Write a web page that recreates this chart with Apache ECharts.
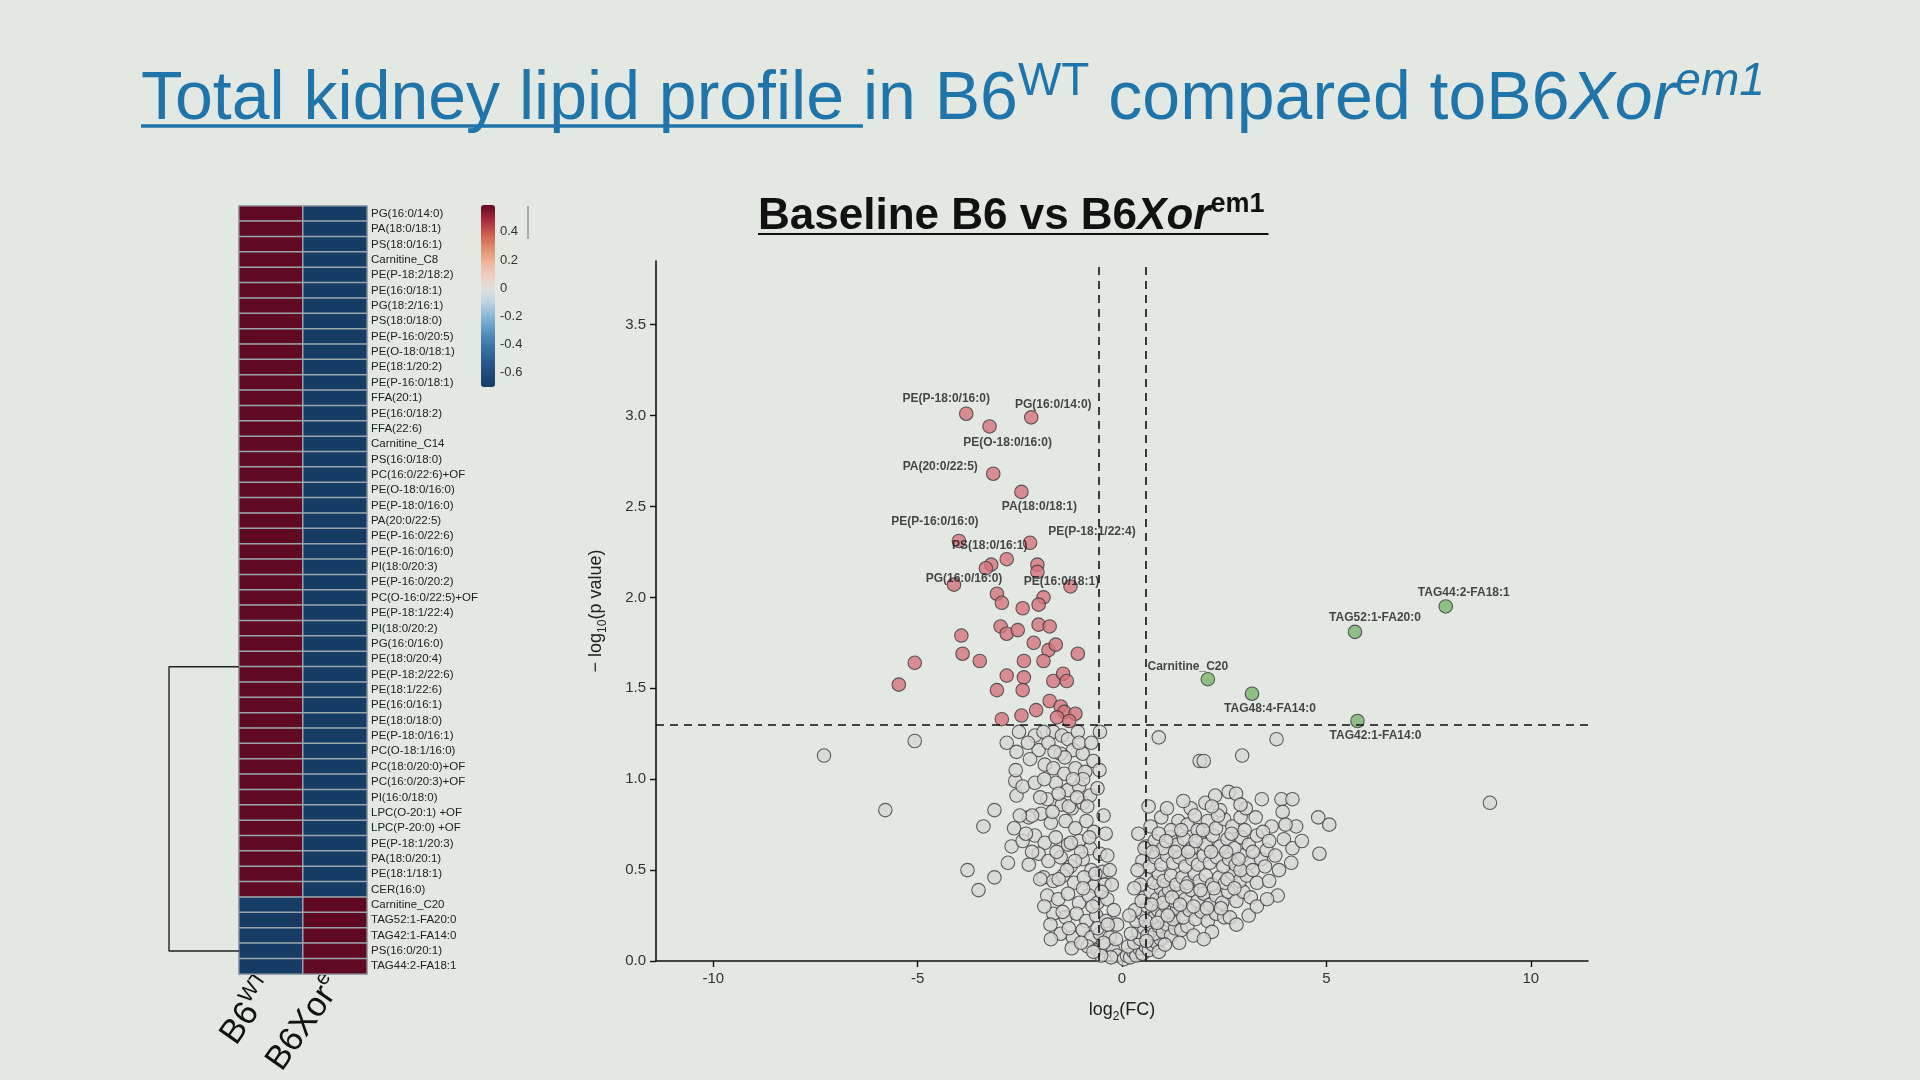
<!DOCTYPE html>
<html><head><meta charset="utf-8">
<script src="https://cdn.jsdelivr.net/npm/echarts@6/dist/echarts.min.js"></script>
<style>html,body{margin:0;padding:0;background:#e3e8e3;}#c{width:1920px;height:1080px;}</style>
</head><body><div id="c"></div>
<script>
// ---------------- DATA ----------------
const lipidNames = ['PG(16:0/14:0)','PA(18:0/18:1)','PS(18:0/16:1)','Carnitine_C8','PE(P-18:2/18:2)','PE(16:0/18:1)','PG(18:2/16:1)','PS(18:0/18:0)','PE(P-16:0/20:5)','PE(O-18:0/18:1)','PE(18:1/20:2)','PE(P-16:0/18:1)','FFA(20:1)','PE(16:0/18:2)','FFA(22:6)','Carnitine_C14','PS(16:0/18:0)','PC(16:0/22:6)+OF','PE(O-18:0/16:0)','PE(P-18:0/16:0)','PA(20:0/22:5)','PE(P-16:0/22:6)','PE(P-16:0/16:0)','PI(18:0/20:3)','PE(P-16:0/20:2)','PC(O-16:0/22:5)+OF','PE(P-18:1/22:4)','PI(18:0/20:2)','PG(16:0/16:0)','PE(18:0/20:4)','PE(P-18:2/22:6)','PE(18:1/22:6)','PE(16:0/16:1)','PE(18:0/18:0)','PE(P-18:0/16:1)','PC(O-18:1/16:0)','PC(18:0/20:0)+OF','PC(16:0/20:3)+OF','PI(16:0/18:0)','LPC(O-20:1) +OF','LPC(P-20:0) +OF','PE(P-18:1/20:3)','PA(18:0/20:1)','PE(18:1/18:1)','CER(16:0)','Carnitine_C20','TAG52:1-FA20:0','TAG42:1-FA14:0','PS(16:0/20:1)','TAG44:2-FA18:1'];
const wtValues = [0.71,0.71,0.71,0.71,0.71,0.71,0.71,0.71,0.71,0.71,0.71,0.71,0.71,0.71,0.71,0.71,0.71,0.71,0.71,0.71,0.71,0.71,0.71,0.71,0.71,0.71,0.71,0.71,0.71,0.71,0.71,0.71,0.71,0.71,0.71,0.71,0.71,0.71,0.71,0.71,0.71,0.71,0.71,0.71,0.71,-0.71,-0.71,-0.71,-0.71,-0.71];
const xorValues = [-0.71,-0.71,-0.71,-0.71,-0.71,-0.71,-0.71,-0.71,-0.71,-0.71,-0.71,-0.71,-0.71,-0.71,-0.71,-0.71,-0.71,-0.71,-0.71,-0.71,-0.71,-0.71,-0.71,-0.71,-0.71,-0.71,-0.71,-0.71,-0.71,-0.71,-0.71,-0.71,-0.71,-0.71,-0.71,-0.71,-0.71,-0.71,-0.71,-0.71,-0.71,-0.71,-0.71,-0.71,-0.71,0.71,0.71,0.71,0.71,0.71];
const heatColumns = ['B6WT','B6Xore'];
const colorbarTicks = [-0.6,-0.4,-0.2,0,0.2,0.4];
const colorbarRange = [-0.70, 0.59];
const dendroBranchRows = [29.5, 48];

const xTicks = [-10,-5,0,5,10];
const yTicks = [0,0.5,1,1.5,2,2.5,3,3.5];
const fcCut = 0.585;
const pCut = 1.301;

const redNames = ['PE(P-18:0/16:0)','PG(16:0/14:0)','PE(O-18:0/16:0)','PA(20:0/22:5)','PA(18:0/18:1)','PE(P-16:0/16:0)','PE(P-18:1/22:4)','PS(18:0/16:1)','PG(16:0/16:0)','PE(16:0/18:1)'];
const redX = [-3.81,-2.22,-3.24,-3.15,-2.46,-3.99,-2.25,-2.82,-4.11,-1.26];
const redY = [3.01,2.99,2.94,2.68,2.58,2.31,2.30,2.21,2.07,2.06];
const redOther = [[-3.20,2.18],[-3.33,2.16],[-2.07,2.18],[-2.07,2.14],[-3.06,2.02],[-2.94,1.97],[-1.92,2.00],[-2.04,1.96],[-2.43,1.94],
 [-5.07,1.64],[-5.46,1.52],[-3.93,1.79],[-3.90,1.69],[-3.48,1.65],[-2.97,1.84],[-2.82,1.80],[-2.55,1.82],[-2.04,1.85],[-1.77,1.84],[-2.16,1.75],[-1.80,1.71],[-1.62,1.74],[-1.08,1.69],[-2.40,1.65],[-1.92,1.65],[-2.82,1.57],[-2.40,1.56],[-1.68,1.54],[-1.44,1.58],[-1.35,1.54],[-3.06,1.49],[-2.43,1.49],[-1.77,1.43],[-1.50,1.40],[-1.41,1.37],[-1.14,1.36],[-2.10,1.38],[-2.46,1.35],[-2.94,1.33],[-1.59,1.34],[-1.29,1.32]];

const greenNames = ['TAG44:2-FA18:1','TAG52:1-FA20:0','Carnitine_C20','TAG48:4-FA14:0','TAG42:1-FA14:0'];
const greenX = [7.92,5.70,2.10,3.18,5.76];
const greenY = [1.95,1.81,1.55,1.47,1.32];

const grayPoints = [
 [-7.29,1.13],[-5.79,0.83],[-5.07,1.21],
 [-3.78,0.50],[-3.51,0.39],[-3.12,0.46],[-3.39,0.74],[-3.12,0.83],[-2.64,0.73],[-2.70,0.63],[-2.43,0.66],[-2.79,0.54],[-2.28,0.53],[-2.58,0.91],[-2.61,0.99],[-2.43,0.96],[-2.82,1.20],[-2.52,1.26],[-2.58,1.15],[-2.13,1.24],[-2.04,1.16],[-2.25,1.11],[-1.89,1.08],[-1.68,1.26],[-1.92,1.26],[-1.80,1.20],[-1.47,1.24],[-1.32,1.22],[-1.08,1.26],[-1.20,1.16],[-1.50,1.14],[-1.68,1.06],[-1.41,1.03],[-1.14,1.06],[-0.96,1.14],[-0.90,1.04],[-1.62,0.98],[-1.32,0.94],[-1.05,0.96],[-1.83,0.89],[-1.47,0.86],[-1.23,0.84],[-0.96,0.87],[-0.78,0.91],[-1.98,0.81],[-1.74,0.76],[-1.38,0.77],[-1.14,0.73],[-0.87,0.77],[-0.69,0.71],[-2.13,0.69],[-1.89,0.65],[-1.62,0.68],[-1.32,0.64],[-1.05,0.66],[-0.78,0.62],[-0.54,0.59],[-0.36,0.58],[-2.04,0.59],[-1.80,0.55],[-1.50,0.57],[-1.26,0.52],[-0.96,0.56],[-0.75,0.50],[-0.48,0.49],[-1.92,0.46],[-1.68,0.44],[-1.44,0.47],[-1.17,0.43],[-0.93,0.46],[-0.69,0.41],[-0.42,0.42],[-1.83,0.36],[-1.56,0.34],[-1.32,0.37],[-1.05,0.32],[-0.81,0.36],[-0.60,0.32],[-0.36,0.34],[-1.68,0.26],[-1.38,0.24],[-1.11,0.26],[-0.87,0.22],[-0.63,0.25],[-0.39,0.22],[-1.50,0.15],[-1.20,0.13],[-0.96,0.17],[-0.75,0.13],[-0.54,0.15],[-0.30,0.13],[-1.23,0.07],[-0.84,0.08],[-0.60,0.06],[-0.39,0.09],[-0.21,0.06],[-0.12,0.03],[-0.27,0.02],[-0.51,0.03],[-0.54,1.26],[-2.13,0.98],[-2.28,0.79],[-1.74,0.12],
 [-0.45,0.80],[-0.60,0.95],[-0.70,1.10],[-0.55,1.05],[-0.40,0.70],[-0.30,0.50],[-0.25,0.42],[-0.50,0.38],[-0.65,0.48],[-0.72,0.30],[-0.95,0.40],[-1.00,0.60],[-1.15,0.55],[-1.25,0.65],[-1.35,0.50],[-1.55,0.45],[-1.60,0.60],[-1.70,0.82],[-1.55,0.92],[-1.30,0.85],[-1.10,0.90],[-0.95,1.00],[-1.20,1.00],[-1.40,1.12],[-1.65,1.15],[-1.90,1.00],[-2.00,0.90],[-2.20,0.80],[-2.35,0.70],[-2.50,0.80],[-2.20,0.60],[-2.00,0.45],[-1.90,0.30],[-1.75,0.20],[-1.45,0.27],[-1.30,0.18],[-1.00,0.10],[-0.70,0.05],[-0.60,0.18],[-0.45,0.10],[-0.15,0.12],[-0.12,0.20],[-0.20,0.28],[-0.35,0.20],[-0.80,0.68],[-0.85,0.85],[-1.05,1.20],[-0.75,1.20],[-2.60,1.05],[-2.30,1.20],
 [0.05,0.01],[0.12,0.03],[0.20,0.02],[0.28,0.05],[0.35,0.03],[0.42,0.07],[0.50,0.04],[0.58,0.08],[0.66,0.06],[0.75,0.09],[0.15,0.08],[0.30,0.10],[0.45,0.12],[0.85,0.10],[0.95,0.12],
 [0.40,0.16],[0.55,0.18],[0.62,0.14],[0.70,0.20],[0.80,0.15],[0.90,0.19],[1.00,0.16],[1.10,0.20],[1.20,0.14],[1.30,0.18],[1.45,0.17],[1.60,0.19],[0.35,0.22],[0.75,0.24],[1.25,0.23],
 [0.50,0.26],[0.62,0.30],[0.88,0.28],[0.98,0.25],[1.08,0.30],[1.18,0.27],[1.35,0.29],[1.50,0.24],[1.65,0.28],[1.80,0.23],[1.95,0.27],[2.10,0.22],[2.30,0.26],[2.50,0.24],[2.64,0.24],
 [0.55,0.35],[0.70,0.38],[0.85,0.34],[0.95,0.40],[1.05,0.36],[1.15,0.39],[1.28,0.33],[1.40,0.37],[1.55,0.34],[1.70,0.39],[1.85,0.33],[2.00,0.37],[2.15,0.31],[2.30,0.36],[2.45,0.32],[2.60,0.38],[2.80,0.33],[2.97,0.38],[3.15,0.35],[3.81,0.36],[1.00,0.32],
 [0.60,0.45],[0.78,0.43],[0.90,0.48],[1.02,0.44],[1.20,0.47],[1.33,0.42],[1.48,0.46],[1.62,0.43],[1.78,0.48],[1.90,0.44],[2.05,0.47],[2.20,0.42],[2.38,0.46],[2.52,0.43],[2.70,0.48],[2.88,0.44],[3.05,0.47],[3.30,0.43],[3.60,0.44],[3.84,0.50],[0.45,0.42],
 [0.50,0.55],[0.68,0.52],[0.82,0.57],[0.96,0.53],[1.10,0.58],[1.25,0.54],[1.40,0.57],[1.55,0.52],[1.72,0.56],[1.86,0.53],[2.00,0.58],[2.15,0.54],[2.32,0.57],[2.48,0.52],[2.62,0.56],[2.78,0.53],[2.95,0.58],[3.12,0.54],[3.40,0.56],[4.14,0.54],[4.83,0.59],
 [0.60,0.63],[0.80,0.66],[1.00,0.62],[1.18,0.68],[1.35,0.64],[1.52,0.67],[1.70,0.62],[1.88,0.68],[2.05,0.64],[2.22,0.69],[2.40,0.63],[2.58,0.67],[2.75,0.62],[2.92,0.68],[3.10,0.64],[3.54,0.61],[3.96,0.67],[4.17,0.62],[3.30,0.69],
 [0.70,0.74],[0.96,0.79],[1.38,0.77],[1.20,0.72],[1.60,0.75],[1.85,0.72],[2.10,0.77],[2.30,0.73],[2.50,0.78],[2.70,0.74],[2.90,0.79],[3.27,0.79],[3.66,0.74],[4.26,0.74],[4.80,0.79],[5.07,0.75],[3.45,0.71],
 [1.68,0.84],[2.04,0.87],[2.28,0.91],[2.61,0.93],[2.79,0.92],[3.03,0.84],[3.42,0.89],[3.90,0.89],[3.93,0.82],[4.17,0.89],[2.40,0.83],[2.90,0.86],
 [9.00,0.87],[3.78,1.22],[0.90,1.23],[1.90,1.10],[2.00,1.10],[2.94,1.13],
 [0.32,0.28],[0.48,0.33],[0.58,0.22],[0.72,0.31],[0.86,0.21],[1.12,0.25],[1.22,0.35],[1.42,0.31],[1.58,0.41],[1.75,0.30],[1.92,0.39],[2.08,0.29],[2.25,0.40],[2.42,0.29],[2.58,0.45],[2.75,0.40],[2.90,0.50],[3.20,0.50],[3.50,0.52],[0.38,0.50],[0.55,0.62],[0.75,0.60],[0.90,0.70],[1.08,0.66],[1.30,0.60],[1.45,0.72],[1.62,0.60],[1.80,0.66],[1.98,0.72],[2.18,0.60],[2.35,0.80],[2.55,0.60],[2.68,0.70],[2.85,0.56],[3.00,0.72],[3.20,0.60],[3.60,0.66],[3.75,0.58],[4.00,0.75],[4.40,0.66],[1.10,0.84],[1.50,0.88],[1.78,0.80],[2.20,0.85],[0.65,0.85],[0.40,0.70],[0.30,0.40],[0.22,0.15],[0.18,0.25],[0.60,0.11],[0.90,0.05],[1.05,0.09],[1.40,0.10],[1.75,0.14],[2.20,0.16],[2.00,0.12],[2.80,0.20],[3.10,0.25],[3.30,0.30],[3.55,0.34]
];

// ---------------- STYLE / LAYOUT ----------------
const FONT = '"Liberation Sans", Arial, sans-serif';
const TITLE_COLOR = '#1f74aa';
const labelOffsets = {
 'PE(P-18:0/16:0)':[-20,-15],'PG(16:0/14:0)':[22,-13],'PE(O-18:0/16:0)':[18,16],'PA(20:0/22:5)':[-53,-7],
 'PA(18:0/18:1)':[18,15],'PE(P-16:0/16:0)':[-24,-19],'PE(P-18:1/22:4)':[62,-11],'PS(18:0/16:1)':[-17,-13],
 'PG(16:0/16:0)':[10,-6],'PE(16:0/18:1)':[-9,-5],
 'TAG44:2-FA18:1':[18,-14],'TAG52:1-FA20:0':[20,-14],'Carnitine_C20':[-20,-12],'TAG48:4-FA14:0':[18,15],'TAG42:1-FA14:0':[18,15]
};

const ctx = document.createElement('canvas').getContext('2d');
function tw(font, s){ ctx.font = font; return ctx.measureText(s).width; }

const heatData = [];
lipidNames.forEach((n,i)=>{ heatData.push([0,i,wtValues[i]]); heatData.push([1,i,xorValues[i]]); });

function labelled(names, xs, ys){
  return names.map((n,i)=>({name:n, value:[xs[i],ys[i]],
    label:{show:true, position:'inside', offset: labelOffsets[n]||[0,0], formatter:'{b}'}}));
}
const redData = labelled(redNames, redX, redY).concat(redOther.map(p=>({value:p})));
const greenData = labelled(greenNames, greenX, greenY);

const ptLabel = {show:false, color:'#1a1a1a', fontWeight:'bold', fontSize:12, fontFamily:FONT};
const subRich = {sub:{fontSize:12, fontFamily:FONT, color:'#222', verticalAlign:'bottom', lineHeight:26}, n:{fontSize:18, fontFamily:FONT, color:'#222', lineHeight:26}};

const TS = 68;
const titleFont = TS + 'px ' + FONT;
const uW = tw(titleFont, 'Total kidney lipid profile ');
const subW = tw('bold 44px ' + FONT, 'Baseline B6 vs B6') + tw('italic bold 44px ' + FONT, 'Xor') + tw('bold 26px ' + FONT, 'em1');

const chart = echarts.init(document.getElementById('c'));
chart.setOption({
  animation:false,
  backgroundColor:'#e3e8e3',
  graphic:[
    {type:'text', left:141, top:59, style:{
      text:'{u|Total kidney lipid profile }{n|in B6}{s|WT}{n| compared toB6}{i|Xor}{si|em1}',
      rich:{
        u:{fontSize:TS, fontFamily:FONT, fill:TITLE_COLOR, lineHeight:82},
        n:{fontSize:TS, fontFamily:FONT, fill:TITLE_COLOR, lineHeight:82},
        i:{fontSize:TS, fontFamily:FONT, fontStyle:'italic', fill:TITLE_COLOR, lineHeight:82},
        s:{fontSize:46, fontFamily:FONT, fill:TITLE_COLOR, lineHeight:54, verticalAlign:'top'},
        si:{fontSize:46, fontFamily:FONT, fontStyle:'italic', fill:TITLE_COLOR, lineHeight:54, verticalAlign:'top'}
      }}},
    {type:'line', shape:{x1:141, y1:126, x2:141+uW, y2:126}, style:{stroke:TITLE_COLOR, lineWidth:3.5}},
    {type:'text', left:758, top:191, style:{
      text:'{n|Baseline B6 vs B6}{i|Xor}{s|em1}',
      rich:{
        n:{fontSize:44, fontWeight:'bold', fontFamily:FONT, fill:'#111', lineHeight:52},
        i:{fontSize:44, fontWeight:'bold', fontStyle:'italic', fontFamily:FONT, fill:'#111', lineHeight:52},
        s:{fontSize:27, fontWeight:'bold', fontFamily:FONT, fill:'#111', lineHeight:30, verticalAlign:'top'}
      }}},
    {type:'line', shape:{x1:758, y1:234, x2:758+subW+6, y2:234}, style:{stroke:'#111', lineWidth:2}},
    {type:'line', shape:{x1:528, y1:206, x2:528, y2:239}, style:{stroke:'#666', lineWidth:1}}
  ],
  visualMap:{
    type:'continuous', seriesIndex:0, min:colorbarRange[0], max:colorbarRange[1],
    calculable:false, orient:'vertical', left:481, top:205, itemWidth:14, itemHeight:182,
    padding:0, text:null, hoverLink:false,
    inRange:{color:['#163b65','#1f4a7a','#2b5e93','#3d77ad','#5b95c2','#86b5d4','#b9d3e2','#e0e0de','#efcfbd','#eeb196','#dd8a6d','#c85a4e','#a5283a','#5f0a22']}
  },
  grid:[
    {left:239, top:206, width:128, height:768},
    {left:169, top:206, width:70, height:768},
    {left:656, top:261, width:932, height:700},
    {left:481, top:205, width:14, height:182}
  ],
  xAxis:[
    {gridIndex:0, type:'category', data:heatColumns, position:'bottom',
     axisLine:{show:false}, axisTick:{show:false},
     axisLabel:{interval:0, rotate:55, margin:6,
       formatter:(v)=> v==='B6WT' ? '{b|B6}{s|WT}' : '{b|B6Xor}{s|e}',
       rich:{b:{fontSize:34, fontFamily:FONT, color:'#111', lineHeight:42}, s:{fontSize:21, fontFamily:FONT, color:'#111', lineHeight:26, verticalAlign:'top'}}}},
    {gridIndex:1, type:'value', min:0, max:1, show:false},
    {gridIndex:2, type:'value', min:-11.4, max:11.4,
     axisLine:{onZero:false, lineStyle:{color:'#111', width:1.6}},
     axisTick:{show:true, length:6, customValues:xTicks, lineStyle:{color:'#111', width:1.4}},
     axisLabel:{customValues:xTicks, fontSize:15, color:'#333', fontFamily:FONT, margin:10},
     splitLine:{show:false},
     name:'{n|log}{sub|2}{n|(FC)}', nameLocation:'middle', nameGap:36, nameTextStyle:{rich:subRich}},
    {gridIndex:3, type:'value', show:false, min:0, max:1}
  ],
  yAxis:[
    {gridIndex:0, type:'category', data:lipidNames, inverse:true, position:'right',
     axisLine:{show:false}, axisTick:{show:false},
     axisLabel:{interval:0, fontSize:11.5, color:'#222', fontFamily:FONT, margin:4}},
    {gridIndex:1, type:'value', min:-0.5, max:49.5, inverse:true, show:false},
    {gridIndex:2, type:'value', min:0, max:3.85, position:'left',
     axisLine:{show:true, onZero:false, lineStyle:{color:'#111', width:1.6}},
     axisTick:{show:true, length:6, customValues:yTicks, lineStyle:{color:'#111', width:1.4}},
     axisLabel:{customValues:yTicks, fontSize:15, color:'#333', fontFamily:FONT, margin:10, formatter:(v)=>v.toFixed(1)},
     splitLine:{show:false},
     name:'{n|− log}{sub|10}{n|(p value)}', nameLocation:'middle', nameGap:47, nameTextStyle:{rich:subRich}},
    {gridIndex:3, type:'value', min:colorbarRange[0], max:colorbarRange[1], position:'right',
     axisLine:{show:false}, axisTick:{show:false}, splitLine:{show:false},
     axisLabel:{customValues:colorbarTicks, fontSize:13, color:'#333', fontFamily:FONT, margin:5, formatter:(v)=> String(Math.round(v*10)/10)}}
  ],
  series:[
    {type:'heatmap', xAxisIndex:0, yAxisIndex:0, data:heatData,
     itemStyle:{borderColor:'#9aa4aa', borderWidth:1.5}},
    {type:'line', xAxisIndex:1, yAxisIndex:1, symbol:'none',
     data:[[1,dendroBranchRows[0]],[0,dendroBranchRows[0]],[0,dendroBranchRows[1]],[1,dendroBranchRows[1]]],
     lineStyle:{color:'#222', width:1.4}},
    {type:'scatter', xAxisIndex:2, yAxisIndex:2, data:grayPoints, symbolSize:13.5,
     itemStyle:{color:'#d6d7d5', borderColor:'#3a3a3a', borderWidth:1.1},
     markLine:{silent:true, symbol:['none','none'], label:{show:false},
       lineStyle:{color:'#111', type:[8,6], width:1.6},
       data:[{xAxis:-fcCut},{xAxis:fcCut},{yAxis:pCut}]}},
    {type:'scatter', xAxisIndex:2, yAxisIndex:2, data:redData, symbolSize:13.5,
     itemStyle:{color:'#d5737a', borderColor:'#3a3a3a', borderWidth:1.1}, label:ptLabel},
    {type:'scatter', xAxisIndex:2, yAxisIndex:2, data:greenData, symbolSize:13.5,
     itemStyle:{color:'#78b46b', borderColor:'#3a3a3a', borderWidth:1.1}, label:ptLabel}
  ]
});
</script></body></html>
